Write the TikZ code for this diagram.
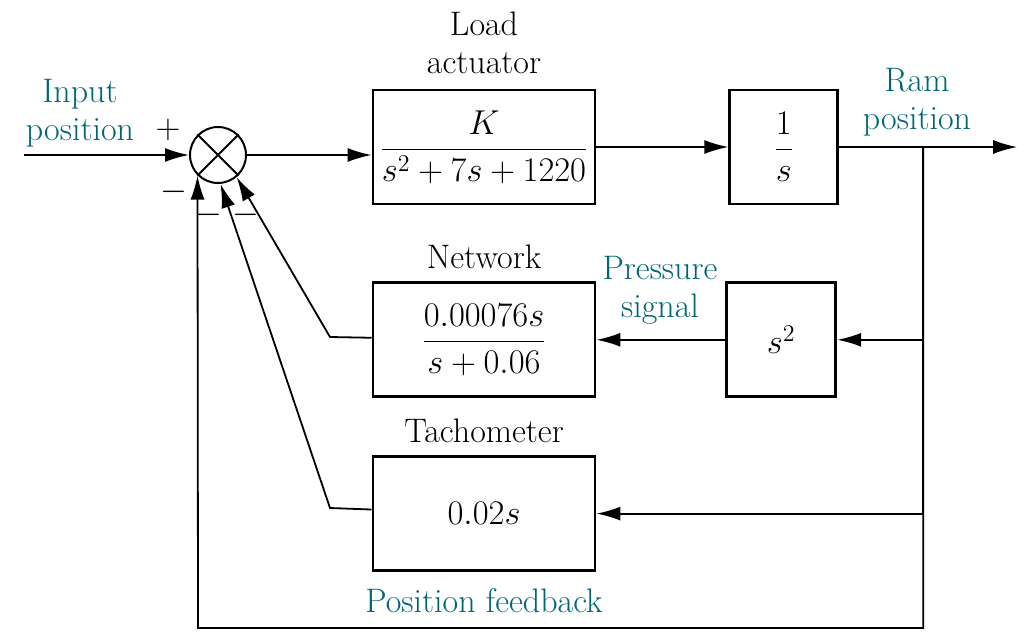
\documentclass[tikz,border=0pt]{standalone}
\usetikzlibrary{positioning,arrows.meta}
\definecolor{labelteal}{RGB}{0,102,118}
\tikzset{
	block/.style = {draw, line width=1.4pt, minimum height=57pt, inner sep=0pt},
	sumjunction/.style = {draw, circle, line width=1pt, minimum size=28pt, inner sep=0pt},
	sig/.style = {line width=0.9pt, -{Latex[length=12pt,width=7pt]}},
	tealtext/.style = {text=labelteal, align=center},
}
\begin{document}
\begin{tikzpicture}[x=0.5pt, y=-0.5pt, font=\fontsize{17}{19}\selectfont]
	\useasboundingbox (0,0) rectangle (1033,643);
	\node[sumjunction] (sum) at (218,155) {};
	\draw[line width=1pt] (sum.45) -- (sum.225) (sum.135) -- (sum.315);
	\node[block, minimum width=111pt] (load) at (484,147) {$\displaystyle\frac{K}{s^2+7s+1220}$};
	\node[block, minimum width=54pt, right=66pt of load] (integ) {$\displaystyle\frac{1}{s}$};
	\node[block, minimum width=111pt, below=38pt of load] (net) {$\displaystyle\frac{0.00076s}{s+0.06}$};
	\node[block, minimum width=54.5pt, right=64.5pt of net] (sq) {$s^2$};
	\node[block, minimum width=111pt, below=28.5pt of net] (tach) {$0.02s$};
	% branch points and corners
	\coordinate[left=82.5pt of sum] (in);
	\coordinate[right=42pt of integ] (br);
	\coordinate[right=47pt of br] (out);
	\coordinate (netc) at (330,337);
	\coordinate (tachc) at (330,508);
	\coordinate (fbl) at (198,628);
	% forward path
	\draw[sig] (in) -- (sum);
	\draw[sig] (sum) -- (sum -| load.west);
	\draw[sig] (load) -- (integ);
	\draw[sig] (integ) -- (out);
	% feedback paths
	\draw[sig] (br) |- (sq);
	\draw[sig] (sq) -- (net);
	\draw[sig] (br) |- (tach);
	\draw[sig] (br) |- (fbl) -- (sum.225);
	\draw[sig] (net) -- (netc) -- (sum.310);
	\draw[sig] (tach) -- (tachc) -- (sum.275);
	% labels
	\node[above=4pt of load, align=center] {Load\\actuator};
	\node[above=3pt of net] {Network};
	\node[above=2.5pt of tach] {Tachometer};
	\node[tealtext] at (660,290) {Pressure\\signal};
	\node[tealtext] at (917,102) {Ram\\position};
	\node[tealtext] at (80,113) {Input\\position};
	\node[tealtext, below=5pt of tach] {Position feedback};
	\node at (168,130) {$+$};
	\node at (174,192) {$-$};
	\node at (209,215) {$-$};
	\node at (246,215) {$-$};
\end{tikzpicture}
\end{document}
